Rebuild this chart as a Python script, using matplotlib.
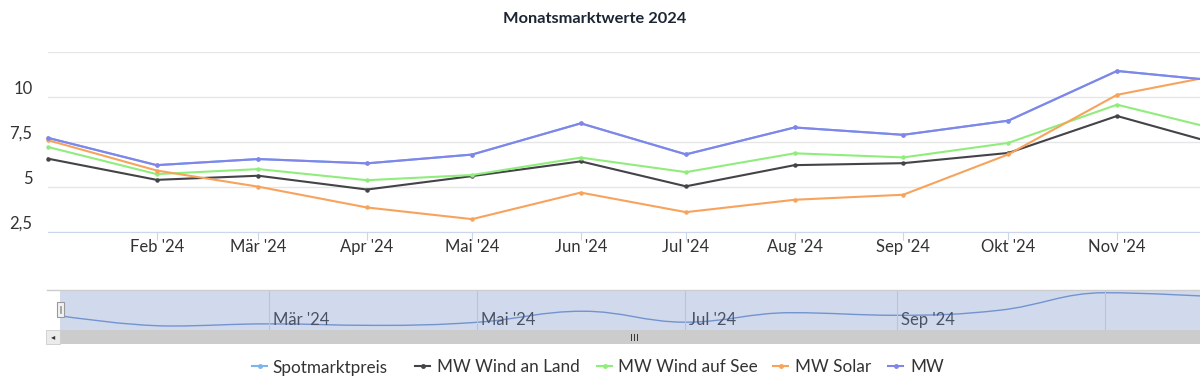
import numpy as np
import pandas as pd
import matplotlib
matplotlib.use('Agg')
import matplotlib.pyplot as plt
import matplotlib.dates as mdates
from matplotlib.path import Path
from matplotlib.patches import PathPatch, Rectangle
from matplotlib.lines import Line2D

plt.rcParams['font.family'] = ['Lato', 'DejaVu Sans']

# Monatsmarktwerte 2024 in ct/kWh
monate = pd.date_range('2024-01-01', periods=12, freq='MS')
spotmarktpreis = [7.73, 6.21, 6.55, 6.31, 6.80, 8.54, 6.81, 8.31, 7.90, 8.69, 11.46, 10.89]
mw_wind_land = [6.57, 5.39, 5.62, 4.85, 5.60, 6.42, 5.03, 6.21, 6.32, 6.89, 8.95, 7.32]
mw_wind_see = [7.22, 5.71, 5.99, 5.37, 5.66, 6.63, 5.82, 6.87, 6.64, 7.45, 9.58, 8.14]
mw_solar = [7.60, 5.91, 5.01, 3.85, 3.20, 4.68, 3.59, 4.28, 4.56, 6.81, 10.13, 11.27]
mw = [7.73, 6.21, 6.55, 6.31, 6.80, 8.54, 6.81, 8.31, 7.90, 8.69, 11.46, 10.89]
monat_namen = ['Jan', 'Feb', 'Mär', 'Apr', 'Mai', 'Jun', 'Jul', 'Aug', 'Sep', 'Okt', 'Nov', 'Dez']
y_ticks = [2.5, 5, 7.5, 10, 12.5]
y_labels = ['2,5', '5', '7,5', '10', '']

serien = [('Spotmarktpreis', spotmarktpreis, '#7cb5ec'),
          ('MW Wind an Land', mw_wind_land, '#434348'),
          ('MW Wind auf See', mw_wind_see, '#90ed7d'),
          ('MW Solar', mw_solar, '#f7a35c'),
          ('MW', mw, '#8085e9')]

W, H = 1200, 382
x = mdates.date2num(monate)
label_farbe = '#333333'


def spline(xs, ys, sm=1.5):
    # highcharts-artige spline als bezier pfad
    verts = [(xs[0], ys[0])]
    codes = [Path.MOVETO]
    prev_r = (xs[0], ys[0])
    n = len(xs)
    for i in range(1, n):
        px, py = xs[i], ys[i]
        if i < n - 1:
            lx, ly = xs[i - 1], ys[i - 1]
            nx, ny = xs[i + 1], ys[i + 1]
            lcx = (sm * px + lx) / (sm + 1)
            lcy = (sm * py + ly) / (sm + 1)
            rcx = (sm * px + nx) / (sm + 1)
            rcy = (sm * py + ny) / (sm + 1)
            if rcx != lcx:
                corr = ((rcy - lcy) * (rcx - px)) / (rcx - lcx) + py - rcy
                lcy += corr
                rcy += corr
            if lcy > ly and lcy > py:
                lcy = max(ly, py); rcy = 2 * py - lcy
            elif lcy < ly and lcy < py:
                lcy = min(ly, py); rcy = 2 * py - lcy
            if rcy > ny and rcy > py:
                rcy = max(ny, py); lcy = 2 * py - rcy
            elif rcy < ny and rcy < py:
                rcy = min(ny, py); lcy = 2 * py - rcy
        else:
            lcx, lcy, rcx, rcy = px, py, px, py
        verts += [prev_r, (lcx, lcy), (px, py)]
        codes += [Path.CURVE4] * 3
        prev_r = (rcx, rcy)
    return Path(verts, codes)


fig = plt.figure(figsize=(W / 100, H / 100), dpi=100)

#-------------------------------------------- Hauptdiagramm
px_tag = 3.505
x0 = 48
ax = fig.add_axes([x0 / W, (H - 231.7) / H, (1240 - x0) / W, (231.7 - 52.3) / H])
ax.set_xlim(x[0], x[0] + (1240 - x0) / px_tag)
ax.set_ylim(2.5, 12.5)
for name, werte, farbe in serien:
    ax.plot(x, werte, color=farbe, lw=1.5, marker='o', ms=2.2, zorder=3, clip_on=False)
ax.set_yticks(y_ticks)
ax.set_yticklabels([])
ax.grid(axis='y', color='#e6e6e6', lw=1)
ax.set_xticks(x[1:11])
ax.set_xticklabels([m + " '24" for m in monat_namen[1:11]], fontsize=12, color=label_farbe)
ax.tick_params(axis='x', length=6, color='#ccd6eb', pad=-1)
ax.tick_params(axis='y', length=0)
for s in ['top', 'right', 'left']:
    ax.spines[s].set_visible(False)
ax.spines['bottom'].set_color('#ccd6eb')
for t, l in zip(y_ticks, y_labels):
    ax.text(-0.013, t, l, transform=ax.get_yaxis_transform(), ha='right', va='bottom',
            fontsize=12, color=label_farbe)

fig.text(595 / W, 1 - 19 / H, 'Monatsmarktwerte 2024', ha='center', va='center',
         fontsize=11.8, fontweight='bold', color='#1b2533')

#-------------------------------------------- Navigator
nav_px = 3.412
nl, nr = 60, 1240
nav = fig.add_axes([nl / W, (H - 330) / H, (nr - nl) / W, 40 / H])
nav.set_facecolor('#d1daec')
nav.set_xlim(x[0] - (64.3 - nl) / nav_px, x[0] + (nr - 64.3) / nav_px)
nav.set_ylim(5.58, 11.89)
nav.add_patch(PathPatch(spline(x, spotmarktpreis), fill=False, ec='#7393cf', lw=1))
for i in range(2, 12, 2):
    nav.axvline(x[i], color='#b9c3d9', lw=0.8)
    if i < 10:
        nav.text(x[i] + 1.2, 5.58 + 0.35, monat_namen[i] + " '24", ha='left', va='bottom',
                 fontsize=12, color='#4a5366')
nav.set_xticks([])
nav.set_yticks([])
for s in nav.spines.values():
    s.set_visible(False)

# umrandung oben
fig.add_artist(Line2D([47 / W, 1], [1 - 290 / H, 1 - 290 / H], color='#cccccc', lw=1))
# scrollbar
fig.add_artist(Rectangle((60 / W, 1 - 344 / H), 1, 14 / H, color='#cccccc', lw=0))
fig.add_artist(Rectangle((46 / W, 1 - 344 / H), 14 / W, 14 / H, fc='#ebebeb', ec='#cccccc', lw=0.6))
fig.text(53 / W, 1 - 337 / H, '◂', ha='center', va='center', fontsize=6, color='#333333',
         family='DejaVu Sans')
for gx in [631, 634, 637]:
    fig.add_artist(Line2D([gx / W, gx / W], [1 - 334 / H, 1 - 340 / H], color='#333333', lw=0.7))
# griff links
fig.add_artist(Rectangle((57 / W, 1 - 317 / H), 7 / W, 15 / H, fc='#f2f2f2', ec='#999999', lw=0.8))
for gx in [59.5, 61.5]:
    fig.add_artist(Line2D([gx / W, gx / W], [1 - 306 / H, 1 - 313 / H], color='#999999', lw=0.6))

#-------------------------------------------- Legende
leg_marker = [252, 415, 597, 773, 888]
leg_text = [272, 437, 618, 795, 910]
ly = 1 - 366 / H
for (name, _, farbe), mx, tx in zip(serien, leg_marker, leg_text):
    fig.add_artist(Line2D([mx / W, (mx + 15) / W], [ly, ly], color=farbe, lw=1.5))
    fig.add_artist(Line2D([(mx + 7.5) / W], [ly], color=farbe, marker='o', ms=2.5))
    fig.text(tx / W, ly, name, ha='left', va='center_baseline', fontsize=12.3, color=label_farbe)

fig.savefig('out.png', dpi=100)
